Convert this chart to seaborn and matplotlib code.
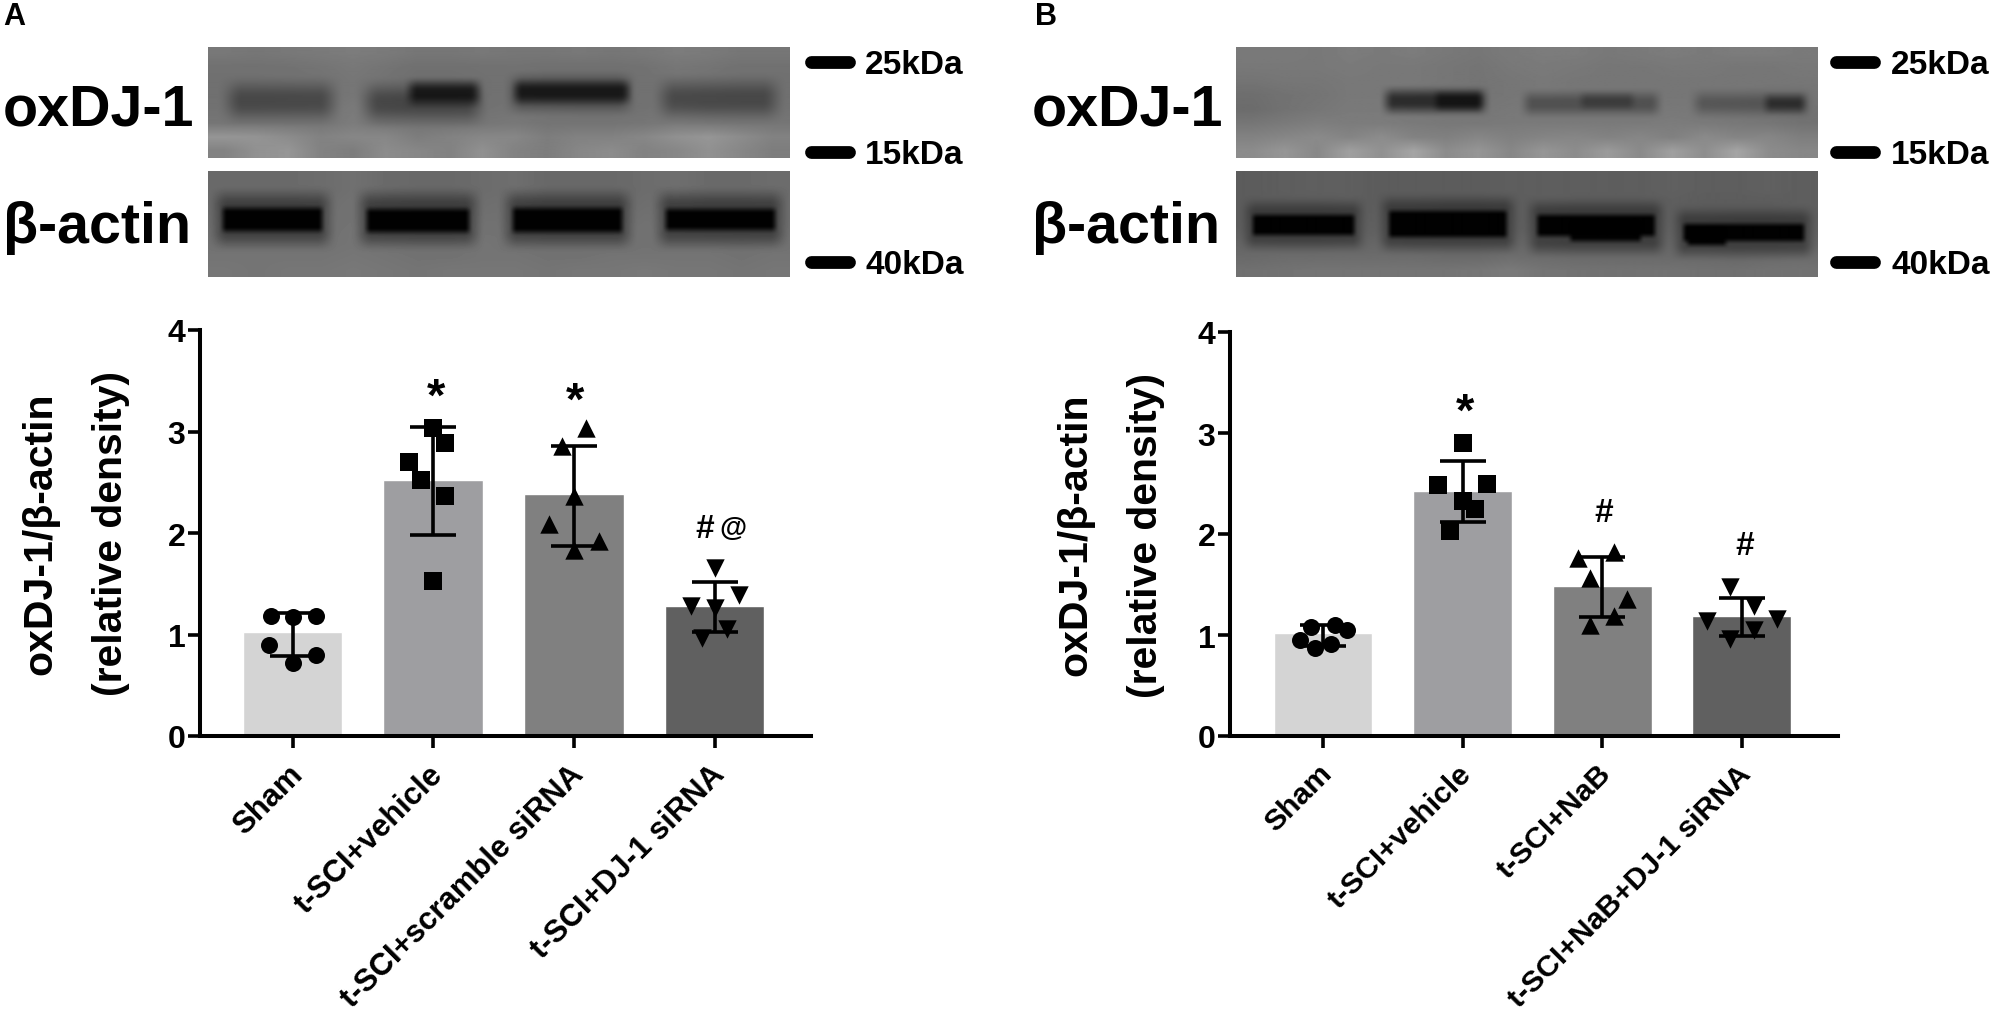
import numpy as np
import pandas as pd
import matplotlib
matplotlib.use("Agg")
import matplotlib.pyplot as plt
import matplotlib.transforms as mtrans
import seaborn as sns
from matplotlib.lines import Line2D

# ---------- data ----------
labels_a = ["Sham", "t-SCI+vehicle", "t-SCI+scramble siRNA", "t-SCI+DJ-1 siRNA"]
labels_b = ["Sham", "t-SCI+vehicle", "t-SCI+NaB", "t-SCI+NaB+DJ-1 siRNA"]
bars_a = [1.02, 2.52, 2.38, 1.28]
bars_b = [1.02, 2.43, 1.49, 1.19]
err_lo_a = [0.79, 1.98, 1.87, 1.02]
err_hi_a = [1.215, 3.04, 2.86, 1.52]
err_lo_b = [0.89, 2.12, 1.18, 0.99]
err_hi_b = [1.10, 2.72, 1.77, 1.37]
pts_a = [[1.18, 1.17, 1.18, 0.90, 0.80, 0.72],
         [3.03, 2.89, 2.70, 2.52, 2.36, 1.53],
         [3.03, 2.86, 2.36, 2.09, 1.92, 1.83],
         [1.66, 1.39, 1.28, 1.26, 1.05, 0.97]]
jit_a = [[-0.156, 0.0, 0.17, -0.165, 0.17, 0.0],
         [0.0, 0.087, -0.175, -0.087, 0.087, 0.0],
         [0.087, -0.087, 0.0, -0.175, 0.175, 0.0],
         [0.0, 0.175, -0.17, 0.0, 0.087, -0.087]]
pts_b = [[1.08, 1.10, 1.05, 0.95, 0.91, 0.87],
         [2.90, 2.49, 2.50, 2.33, 2.25, 2.03],
         [1.82, 1.76, 1.56, 1.36, 1.19, 1.10],
         [1.48, 1.29, 1.16, 1.14, 1.05, 0.96]]
jit_b = [[-0.087, 0.087, 0.17, -0.165, 0.06, -0.055],
         [0.0, -0.175, 0.175, 0.0, 0.087, -0.087],
         [0.087, -0.175, -0.087, 0.175, 0.087, -0.087],
         [-0.087, 0.087, 0.25, -0.25, 0.087, -0.087]]
group_markers = ["o", "s", "^", "v"]
marker_sizes = [150, 165, 175, 175]
bar_colors = ["#d4d4d4", "#9d9da1", "#808080", "#606060"]
notes_a = [("*", 1.02, 3.33), ("*", 2.01, 3.29), ("#", 2.93, 2.04)]
notes_b = [("*", 1.02, 3.20), ("#", 2.01, 2.21), ("#", 3.02, 1.89)]
kda_labels = ["25kDa", "15kDa", "40kDa"]

# Blot backgrounds: estimated grey levels
bg_a_ox = [
 [120,118,120,122,124,122,118,118,120,118,118,120,118,120,124,122,118,118],
 [113,113,114,116,120,116,112,112,113,114,112,112,112,114,118,116,113,113],
 [112,112,113,114,118,114,110,110,112,114,110,110,110,113,116,114,112,112],
 [112,112,113,114,118,114,110,110,112,114,110,110,110,113,116,114,112,112],
 [114,114,115,116,122,116,112,112,114,116,114,112,112,114,118,114,114,114],
 [118,118,118,118,124,118,116,116,118,120,116,116,116,118,122,120,118,118],
 [150,148,140,130,135,135,125,130,135,135,125,130,130,135,145,150,140,130],
 [130,145,150,130,125,140,135,130,145,130,125,135,140,130,135,145,135,125]]
bg_a_ac = [
 [106,106,106,108,112,106,104,104,108,110,104,104,104,108,110,106,106,108],
 [106,106,106,108,112,106,104,104,108,110,104,104,104,108,110,106,106,108],
 [108,108,108,110,114,108,106,106,110,112,106,106,106,110,112,108,108,110],
 [110,110,110,112,114,110,108,108,112,112,108,108,108,112,112,110,110,110],
 [112,112,112,112,116,112,110,110,114,114,110,110,110,114,114,112,112,112],
 [114,114,114,114,116,114,112,112,116,114,112,112,112,114,114,114,112,114],
 [116,116,116,116,118,116,114,114,116,116,114,114,116,116,116,116,114,116],
 [118,116,118,118,120,118,116,118,118,118,116,118,118,120,118,118,116,118]]
bg_b_ox = [
 [122,122,120,124,122,124,120,118,122,124,124,120,122,124,122,124,124,122],
 [120,120,120,122,120,120,118,116,120,122,120,118,118,120,120,118,118,120],
 [116,118,118,120,120,120,118,116,118,120,118,118,118,118,118,118,118,118],
 [110,114,116,120,120,118,116,116,118,120,118,118,118,118,118,118,116,116],
 [108,114,118,122,122,120,118,118,120,120,120,120,120,120,120,118,116,114],
 [118,122,126,124,124,122,120,120,122,122,122,122,122,124,122,120,118,114],
 [130,134,138,132,140,130,128,134,128,132,134,130,134,128,138,132,134,126],
 [140,150,136,160,145,165,140,150,135,150,140,155,138,160,142,165,140,135]]
bg_b_ac = [
 [92,94,95,95,92,92,92,92,94,94,94,94,94,96,94,94,96,94],
 [92,94,95,95,92,92,92,92,94,94,94,94,94,96,94,94,96,94],
 [92,92,92,94,92,92,90,90,92,94,92,92,92,94,92,92,92,94],
 [92,92,92,94,94,92,90,90,92,94,92,92,92,94,94,92,92,94],
 [94,94,94,96,96,94,92,92,94,96,94,94,94,96,96,94,94,96],
 [100,98,98,100,102,98,98,98,100,102,98,98,98,100,100,98,98,100],
 [106,108,108,108,108,108,106,106,110,108,106,106,106,106,106,104,106,108],
 [112,114,116,116,116,116,116,118,122,116,114,114,114,114,112,112,114,114]]

# Blot bands, estimated in picture pixels: x0, x1, y0, y1, darkness, edge softness
bands_a_ox = [
 (230, 332, 88, 117, .36, 26), (367, 478, 90, 119, .38, 26), (410, 478, 85, 104, .70, 16),
 (513, 628, 81, 109, .42, 22), (516, 628, 85, 102, .62, 14), (663, 775, 86, 115, .36, 26)]
bands_a_ac = [
 (217, 328, 196, 244, .42, 22), (361, 475, 196, 244, .42, 22), (507, 628, 196, 244, .42, 22),
 (660, 781, 196, 244, .42, 22),
 (223, 322, 209, 232, .98, 9), (367, 469, 210, 233, .98, 9), (513, 622, 209, 233, .98, 9),
 (666, 775, 210, 231, .98, 9)]
bands_b_ox = [
 (1386, 1484, 93, 112, .62, 16), (1436, 1480, 95, 110, .55, 12),
 (1525, 1657, 96, 114, .32, 16), (1581, 1632, 96, 109, .26, 12),
 (1695, 1806, 96, 114, .27, 18), (1765, 1803, 98, 112, .46, 13)]
bands_b_ac = [
 (1247, 1360, 205, 247, .35, 18), (1383, 1512, 201, 249, .35, 18), (1531, 1660, 205, 252, .35, 18),
 (1677, 1809, 213, 255, .35, 18),
 (1253, 1354, 216, 236, .98, 8), (1389, 1506, 212, 238, .98, 8), (1537, 1654, 216, 237, .98, 8),
 (1570, 1640, 223, 242, .96, 8), (1683, 1803, 225, 242, .98, 8), (1687, 1725, 229, 246, .96, 8)]

# ---------- style ----------
W, H = 1991, 1012
sns.set_theme(style="ticks")
plt.rcParams["font.family"] = ["Liberation Sans", "DejaVu Sans"]
plt.rcParams["font.weight"] = "bold"
plt.rcParams["text.color"] = "black"
plt.rcParams["axes.labelcolor"] = "black"
plt.rcParams["xtick.color"] = "black"
plt.rcParams["ytick.color"] = "black"
fig = plt.figure(figsize=(W / 100, H / 100), dpi=100)


def rect(x0, y0, x1, y1):
    return [x0 / W, 1 - y1 / H, (x1 - x0) / W, (y1 - y0) / H]


def ftext(x, y, s, **kw):
    fig.text(x / W, 1 - y / H, s, **kw)


def edge(d, soft):
    t = np.clip(d / soft + 0.5, 0, 1)
    return t * t * (3 - 2 * t)


def blot(x0, y0, x1, y1, bg, bands):
    """Blot strip composed from the grey-level table and the band table."""
    bg = np.array(bg, dtype=float)
    xs = np.arange(x0, x1) + 0.5
    ys = np.arange(y0, y1) + 0.5
    rows, cols = bg.shape
    col_pos = x0 + (np.arange(cols) + 0.5) * (x1 - x0) / cols
    row_pos = y0 + (np.arange(rows) + 0.5) * (y1 - y0) / rows
    by_col = np.array([np.interp(xs, col_pos, r) for r in bg])
    img = np.array([np.interp(ys, row_pos, c) for c in by_col.T]).T
    X, Y = np.meshgrid(xs, ys)
    for bx0, bx1, by0, by1, dark, soft in bands:
        box = (edge(X - bx0, soft) * edge(bx1 - X, soft)
               * edge(Y - by0, soft) * edge(by1 - Y, soft))
        img = img * (1 - dark * box)
    ax = fig.add_axes(rect(x0, y0, x1, y1))
    ax.imshow(img, cmap="gray", vmin=0, vmax=255, aspect="auto", interpolation="bilinear")
    ax.axis("off")


def bar_panel(x0, y0, x1, spacing, center0, labels, vals, lo, hi, pts, jit, notes, ylab_x,
              label_size):
    ax = fig.add_axes(rect(x0, y0, x1, 737))
    pos = list(range(4))
    sns.barplot(x=pos, y=vals, hue=pos, palette=bar_colors, legend=False,
                native_scale=True, width=0.708, errorbar=None, ax=ax, zorder=2)
    ax.errorbar(pos, vals,
                yerr=[np.array(vals) - np.array(lo), np.array(hi) - np.array(vals)],
                fmt="none", ecolor="black", elinewidth=2.6, capsize=16.5,
                capthick=2.6, zorder=3)
    for i in pos:
        df = pd.DataFrame({"x": np.array(jit[i]) + i, "y": pts[i]})
        sns.scatterplot(data=df, x="x", y="y", marker=group_markers[i], color="black",
                        s=marker_sizes[i], linewidth=0, ax=ax, zorder=4)
    ax.set_xlim((x0 - center0) / spacing, (x1 - center0) / spacing)
    ax.set_ylim(0, 4)
    ax.set_yticks([0, 1, 2, 3, 4])
    ax.set_xticks(pos)
    ax.set_xticklabels(labels, rotation=45, ha="right", rotation_mode="anchor",
                       fontsize=label_size, fontweight="bold", color="black")
    ax.tick_params(axis="both", width=2.6, length=8.5, color="black", pad=2)
    ax.tick_params(axis="y", labelsize=23, labelcolor="black")
    ax.tick_params(axis="x", pad=8)
    shift = mtrans.ScaledTranslation(-5 / 100, 0, fig.dpi_scale_trans)
    for lab in ax.get_xticklabels():
        lab.set_transform(lab.get_transform() + shift)
    for lab in ax.get_yticklabels():
        lab.set_fontweight("bold")
    sns.despine(ax=ax)
    for s in ("left", "bottom"):
        ax.spines[s].set_linewidth(2.9)
        ax.spines[s].set_color("black")
    ax.patch.set_alpha(0)
    ax.set_xlabel("")
    ax.set_ylabel("oxDJ-1/β-actin\n(relative density)", fontsize=29.5,
                  fontweight="bold", linespacing=2.07, color="black")
    ax.yaxis.set_label_coords(ylab_x, 0.5)
    for s, x, y in notes:
        ax.text(x, y, s, ha="center", va="center", fontsize=34 if s == "*" else 24,
                fontweight="bold", color="black")
    return ax


def ladder(x0, x1, xt):
    for y, s in zip([63, 153, 263], kda_labels):
        fig.add_artist(Line2D([(x0 + 6) / W, (x1 - 6) / W], [1 - y / H] * 2, color="black",
                              lw=9.2, solid_capstyle="round"))
        ftext(xt, y + 3, s, ha="left", va="center", fontsize=24, fontweight="bold",
              color="black")


# ---------- panel A ----------
ftext(3, 17, "A", ha="left", va="center", fontsize=22, fontweight="bold", color="black")
ftext(3, 110, "oxDJ-1", ha="left", va="center", fontsize=41.3, fontweight="bold", color="black")
ftext(3, 228, "β-actin", ha="left", va="center", fontsize=41.3, fontweight="bold", color="black")
blot(208, 48, 790, 159, bg_a_ox, bands_a_ox)
blot(208, 172, 790, 278, bg_a_ac, bands_a_ac)
ladder(805, 855, 865)
ax_a = bar_panel(200, 331, 811, 140.7, 292.5, labels_a, bars_a, err_lo_a, err_hi_a,
                 pts_a, jit_a, notes_a, -0.115, 22.4)
ax_a.text(3.13, 2.05, "@", ha="center", va="center", fontsize=20, fontweight="bold",
          color="black")

# ---------- panel B ----------
ftext(1035, 17, "B", ha="left", va="center", fontsize=22, fontweight="bold", color="black")
ftext(1032, 110, "oxDJ-1", ha="left", va="center", fontsize=41.3, fontweight="bold", color="black")
ftext(1032, 228, "β-actin", ha="left", va="center", fontsize=41.3, fontweight="bold", color="black")
blot(1236, 48, 1817, 159, bg_b_ox, bands_b_ox)
blot(1236, 172, 1817, 278, bg_b_ac, bands_b_ac)
ladder(1830, 1880, 1891)
bar_panel(1230, 333, 1838, 139.6, 1323, labels_b, bars_b, err_lo_b, err_hi_b,
          pts_b, jit_b, notes_b, -0.107, 21.7)

fig.savefig("out.png", dpi=100, facecolor="white")
